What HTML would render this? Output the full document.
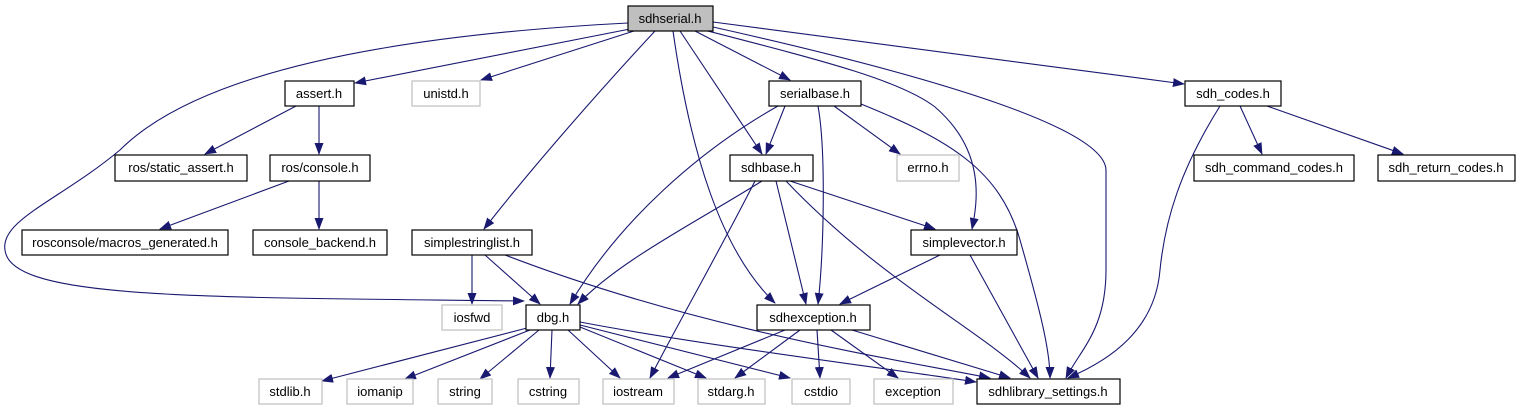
<!DOCTYPE html>
<html><head><meta charset="utf-8"><style>
html,body{margin:0;padding:0;background:#fff;}
svg{display:block;}
text{font-family:"Liberation Sans",sans-serif;font-size:13px;fill:#000;text-anchor:middle;}
.n{fill:#fff;stroke:#000;stroke-width:1.2;}
.g{fill:#fff;stroke:#bfbfbf;stroke-width:1.2;}
.e{fill:none;stroke:#191970;stroke-width:1.1;marker-end:url(#a);}
</style></head><body>
<svg width="1519" height="411" viewBox="0 0 1519 411" xmlns="http://www.w3.org/2000/svg">
<defs><marker id="a" markerWidth="12" markerHeight="9" refX="11" refY="4.5" orient="auto" markerUnits="userSpaceOnUse"><path d="M0,0 L12,4.5 L0,9 z" fill="#191970"/></marker></defs>
<!-- edges -->
<path class="e" d="M628,23 C400,35 200,70 120,150 C60,200 0,220 5,250 C10,300 200,297 524,301"/>
<path class="e" d="M630,29 L355,83"/>
<path class="e" d="M634,31 L481,80"/>
<path class="e" d="M655,31 C600,90 530,170 484,229"/>
<path class="e" d="M673,31 C690,150 720,250 775,303"/>
<path class="e" d="M680,31 L762,154"/>
<path class="e" d="M695,31 L790,80"/>
<path class="e" d="M700,29 C820,60 900,80 935,107 C985,150 978,200 972,229"/>
<path class="e" d="M713,27 C950,80 1105,130 1106,170 L1106,270 C1106,330 1080,350 1066,378"/>
<path class="e" d="M713,22 L1184,84"/>
<path class="e" d="M785,106 L766,154"/>
<path class="e" d="M778,106 C700,150 620,220 570,304"/>
<path class="e" d="M818,106 C826,150 824,250 818,304"/>
<path class="e" d="M834,106 L900,154"/>
<path class="e" d="M861,104 C950,140 1000,170 1020,240 C1040,310 1050,350 1050,378"/>
<path class="e" d="M762,181 C700,220 620,260 578,304"/>
<path class="e" d="M755,181 C720,250 680,320 650,378"/>
<path class="e" d="M776,181 L806,304"/>
<path class="e" d="M790,181 L935,229"/>
<path class="e" d="M786,181 C880,280 980,330 1030,378"/>
<path class="e" d="M940,255 L840,304"/>
<path class="e" d="M970,255 L1038,378"/>
<path class="e" d="M472,255 L472,304"/>
<path class="e" d="M485,255 L540,304"/>
<path class="e" d="M505,255 C700,330 900,360 990,378"/>
<path class="e" d="M527,328 L322,381"/>
<path class="e" d="M530,330 L405,379"/>
<path class="e" d="M539,330 L480,379"/>
<path class="e" d="M552,330 L550,378"/>
<path class="e" d="M568,330 L620,378"/>
<path class="e" d="M580,327 L706,378"/>
<path class="e" d="M580,325 L790,378"/>
<path class="e" d="M580,322 C700,345 900,370 976,382"/>
<path class="e" d="M785,330 L668,378"/>
<path class="e" d="M800,330 L735,378"/>
<path class="e" d="M817,330 L820,378"/>
<path class="e" d="M831,330 L898,378"/>
<path class="e" d="M852,330 L1010,378"/>
<path class="e" d="M1220,106 C1180,170 1165,220 1160,270 C1155,330 1110,360 1068,378"/>
<path class="e" d="M1240,106 L1262,154"/>
<path class="e" d="M1267,106 L1403,154"/>
<path class="e" d="M296,106 L205,154"/>
<path class="e" d="M319,106 L319,154"/>
<path class="e" d="M289,181 L160,229"/>
<path class="e" d="M319,181 L319,229"/>
<!-- nodes -->
<rect x="628" y="6" width="85" height="25" fill="#bfbfbf" stroke="#000" stroke-width="1.2"/><text x="670" y="23">sdhserial.h</text>
<rect class="n" x="285" y="81" width="69" height="25"/><text x="319" y="98">assert.h</text>
<rect class="g" x="412" y="81" width="68" height="25"/><text x="446" y="98" fill="#000">unistd.h</text>
<rect class="n" x="769" y="81" width="92" height="25"/><text x="815" y="98">serialbase.h</text>
<rect class="n" x="1185" y="81" width="96" height="25"/><text x="1233" y="98">sdh_codes.h</text>
<rect class="n" x="115" y="155" width="132" height="26"/><text x="181" y="172">ros/static_assert.h</text>
<rect class="n" x="270" y="155" width="100" height="26"/><text x="320" y="172">ros/console.h</text>
<rect class="n" x="730" y="155" width="83" height="26"/><text x="771" y="172">sdhbase.h</text>
<rect class="g" x="897" y="155" width="62" height="26"/><text x="928" y="172">errno.h</text>
<rect class="n" x="1194" y="155" width="160" height="26"/><text x="1274" y="172">sdh_command_codes.h</text>
<rect class="n" x="1378" y="155" width="137" height="26"/><text x="1446" y="172">sdh_return_codes.h</text>
<rect class="n" x="22" y="230" width="206" height="25"/><text x="125" y="247">rosconsole/macros_generated.h</text>
<rect class="n" x="253" y="230" width="134" height="25"/><text x="320" y="247">console_backend.h</text>
<rect class="n" x="412" y="230" width="120" height="25"/><text x="472" y="247">simplestringlist.h</text>
<rect class="n" x="911" y="230" width="106" height="25"/><text x="964" y="247">simplevector.h</text>
<rect class="g" x="442" y="305" width="60" height="25"/><text x="472" y="322">iosfwd</text>
<rect class="n" x="526" y="305" width="54" height="25"/><text x="553" y="322">dbg.h</text>
<rect class="n" x="757" y="305" width="113" height="25"/><text x="813" y="322">sdhexception.h</text>
<rect class="g" x="259" y="379" width="63" height="25"/><text x="290" y="396">stdlib.h</text>
<rect class="g" x="347" y="379" width="66" height="25"/><text x="380" y="396">iomanip</text>
<rect class="g" x="438" y="379" width="54" height="25"/><text x="465" y="396">string</text>
<rect class="g" x="518" y="379" width="61" height="25"/><text x="548" y="396">cstring</text>
<rect class="g" x="603" y="379" width="71" height="25"/><text x="638" y="396">iostream</text>
<rect class="g" x="698" y="379" width="67" height="25"/><text x="731" y="396">stdarg.h</text>
<rect class="g" x="792" y="379" width="58" height="25"/><text x="821" y="396">cstdio</text>
<rect class="g" x="874" y="379" width="79" height="25"/><text x="913" y="396">exception</text>
<rect class="n" x="977" y="379" width="143" height="25"/><text x="1048" y="396">sdhlibrary_settings.h</text>
</svg>
</body></html>
